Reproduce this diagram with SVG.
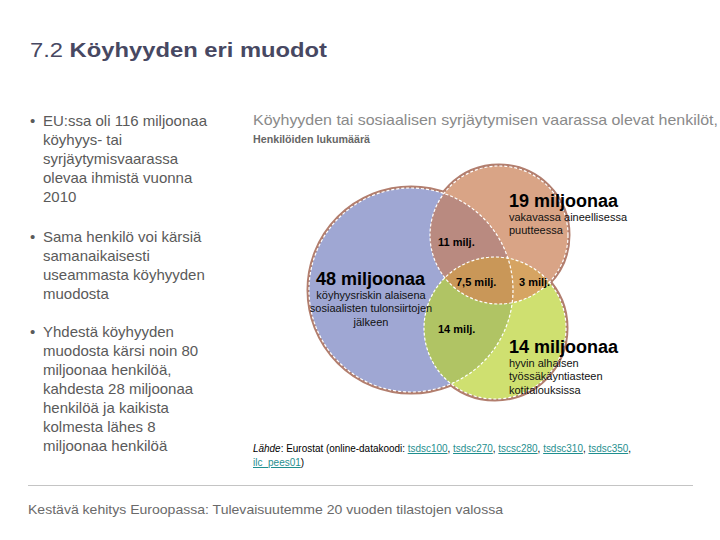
<svg xmlns="http://www.w3.org/2000/svg" width="720" height="540" viewBox="0 0 720 540">
<style>
text{font-family:"Liberation Sans",Arial,sans-serif}
.title{font-size:21px;fill:#474862}
.bul{font-size:15px;fill:#5a5a5a}
.hdr{font-size:15px;fill:#8a8a8a}
.sub{font-size:10px;font-weight:bold;fill:#666}
.big{font-size:18px;font-weight:bold;fill:#000}
.sm{font-size:11px;fill:#111}
.smb{font-size:11px;font-weight:bold;fill:#000}
.src{font-size:10px;fill:#000}
.lnk{fill:#1f8f8f;text-decoration:underline}
.foot{font-size:13px;fill:#6a6a6a}
.edge{fill:none;stroke:#b27e6e;stroke-width:5}
.dash{fill:none;stroke:#fff;stroke-width:1.2;stroke-dasharray:3 2}
</style>
<defs>
<clipPath id="cB"><circle cx="411" cy="290" r="102"/></clipPath>
<clipPath id="cP"><circle cx="499" cy="235" r="69"/></clipPath>
<clipPath id="cG"><circle cx="495" cy="328" r="71"/></clipPath>
</defs>
<rect width="720" height="540" fill="#fff"/>
<text class="title" x="30" y="57" textLength="297" lengthAdjust="spacingAndGlyphs">7.2 <tspan font-weight="bold">Köyhyyden eri muodot</tspan></text>

<g id="bullets">
<g class="bul">
<text x="30" y="126">•</text>
<text x="43" y="126">EU:ssa oli 116 miljoonaa</text>
<text x="43" y="145">köyhyys- tai</text>
<text x="43" y="164">syrjäytymisvaarassa</text>
<text x="43" y="183">olevaa ihmistä vuonna</text>
<text x="43" y="202">2010</text>
<text x="30" y="242">•</text>
<text x="43" y="242">Sama henkilö voi kärsiä</text>
<text x="43" y="261">samanaikaisesti</text>
<text x="43" y="280">useammasta köyhyyden</text>
<text x="43" y="299">muodosta</text>
<text x="30" y="337">•</text>
<text x="43" y="337">Yhdestä köyhyyden</text>
<text x="43" y="356">muodosta kärsi noin 80</text>
<text x="43" y="375">miljoonaa henkilöä,</text>
<text x="43" y="394">kahdesta 28 miljoonaa</text>
<text x="43" y="413">henkilöä ja kaikista</text>
<text x="43" y="432">kolmesta lähes 8</text>
<text x="43" y="451">miljoonaa henkilöä</text>
</g>
</g>

<text class="hdr" x="253" y="125" textLength="465" lengthAdjust="spacingAndGlyphs">Köyhyyden tai sosiaalisen syrjäytymisen vaarassa olevat henkilöt,</text>
<text class="sub" x="253" y="143" textLength="117" lengthAdjust="spacingAndGlyphs">Henkilöiden lukumäärä</text>

<g id="venn">
<g id="edges">
<circle class="edge" cx="411" cy="290" r="102"/>
<circle class="edge" cx="499" cy="235" r="69"/>
<circle class="edge" cx="495" cy="328" r="71"/>
</g>
<g id="circle-blue"><circle cx="411" cy="290" r="102" fill="#9fa7d3"/></g>
<g id="circle-peach"><circle cx="499" cy="235" r="69" fill="#d9a486"/></g>
<g id="circle-green"><circle cx="495" cy="328" r="71" fill="#cfe070"/></g>
<g id="overlaps">
<circle cx="499" cy="235" r="69" fill="#b98a80" clip-path="url(#cB)"/>
<circle cx="495" cy="328" r="71" fill="#b0c464" clip-path="url(#cB)"/>
<circle cx="495" cy="328" r="71" fill="#d6a462" clip-path="url(#cP)"/>
<g clip-path="url(#cB)"><circle cx="495" cy="328" r="71" fill="#c99758" clip-path="url(#cP)"/></g>
</g>
<g id="dashes">
<circle class="dash" cx="411" cy="290" r="102"/>
<circle class="dash" cx="499" cy="235" r="69"/>
<circle class="dash" cx="495" cy="328" r="71"/>
</g>
</g>

<g id="labels">
<text class="big" x="509" y="207">19 miljoonaa</text>
<text class="sm" x="509" y="221">vakavassa aineellisessa</text>
<text class="sm" x="509" y="234">puutteessa</text>
<text class="smb" x="438" y="246">11 milj.</text>
<text class="big" x="316" y="285">48 miljoonaa</text>
<text class="sm" x="371" y="299" text-anchor="middle">köyhyysriskin alaisena</text>
<text class="sm" x="371" y="312" text-anchor="middle">sosiaalisten tulonsiirtojen</text>
<text class="sm" x="371" y="326" text-anchor="middle">jälkeen</text>
<text class="smb" x="456" y="286">7,5 milj.</text>
<text class="smb" x="519" y="286">3 milj.</text>
<text class="smb" x="438" y="333">14 milj.</text>
<text class="big" x="509" y="353">14 miljoonaa</text>
<text class="sm" x="509" y="367">hyvin alhaisen</text>
<text class="sm" x="509" y="380">työssäkäyntiasteen</text>
<text class="sm" x="509" y="394">kotitalouksissa</text>
</g>

<g id="source">
<text class="src" x="253" y="452" textLength="378" lengthAdjust="spacingAndGlyphs"><tspan font-style="italic">Lähde</tspan>: Eurostat (online-datakoodi: <tspan class="lnk">tsdsc100</tspan>, <tspan class="lnk">tsdsc270</tspan>, <tspan class="lnk">tscsc280</tspan>, <tspan class="lnk">tsdsc310</tspan>, <tspan class="lnk">tsdsc350</tspan>,</text>
<text class="src" x="253" y="466"><tspan class="lnk">ilc_pees01</tspan>)</text>
</g>

<line x1="28" y1="485.5" x2="693" y2="485.5" stroke="#c4c4c4" stroke-width="1"/>
<text class="foot" x="28" y="514" textLength="475" lengthAdjust="spacingAndGlyphs">Kestävä kehitys Euroopassa: Tulevaisuutemme 20 vuoden tilastojen valossa</text>
</svg>
